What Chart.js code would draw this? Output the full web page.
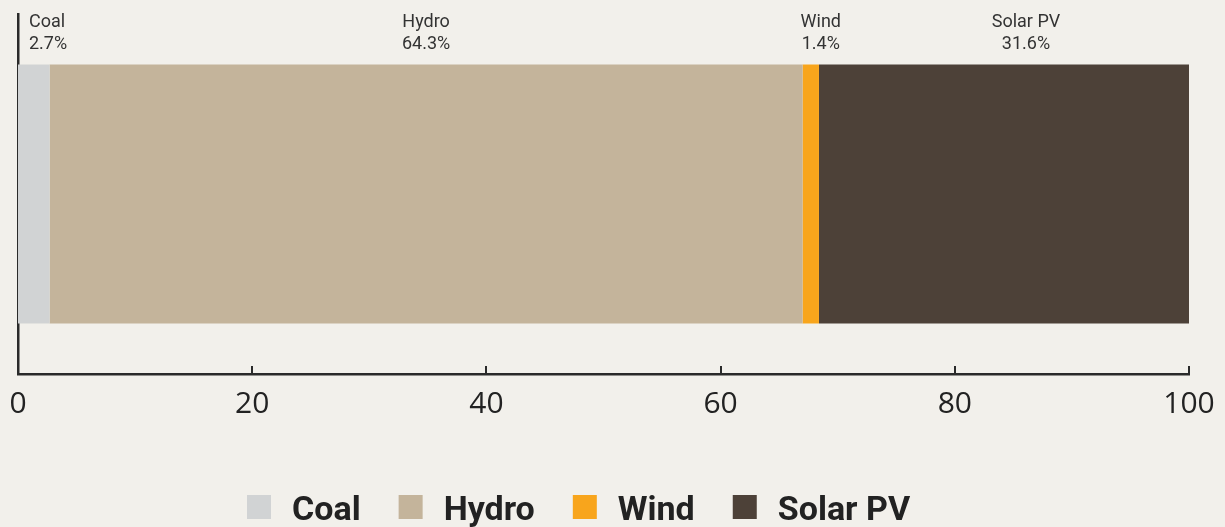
<!DOCTYPE html>
<html>
<head>
<meta charset="utf-8">
<script src="https://cdn.jsdelivr.net/npm/chart.js@4"></script>
<style>
  html, body { margin: 0; padding: 0; background: #f2f0eb; }
  #wrap { width: 1225px; height: 527px; }
</style>
</head>
<body>
<div id="wrap"><canvas id="mixChart"></canvas></div>
<script>
const sources = ["Coal", "Hydro", "Wind", "Solar PV"];
const shares = [2.7, 64.3, 1.4, 31.6];
const colors = ["#d1d3d4", "#c4b49b", "#f8a51c", "#4d4138"];
const xTicks = [0, 20, 40, 60, 80, 100];

const axisColor = "#2a2a2a";

// labels above each segment (name + share)
const segmentLabels = {
    id: "segmentLabels",
    afterDatasetsDraw(chart) {
        const ctx = chart.ctx;
        // small nudges so the labels don't crowd each other
        const shift = [0, 0, 10, 22];
        ctx.save();
        ctx.font = "18px Roboto";
        ctx.fillStyle = "#333";
        chart.data.datasets.forEach((ds, i) => {
            const bar = chart.getDatasetMeta(i).data[0];
            let x, align;
            if (i === 0) {
                x = Math.min(bar.base, bar.x) + 11;
                align = "left";
            } else {
                x = (bar.base + bar.x) / 2 + shift[i];
                align = "center";
            }
            ctx.textAlign = align;
            ctx.fillText(ds.label, x, 27);
            ctx.fillText(ds.data[0] + "%", x, 49);
        });
        ctx.restore();
    }
};

// tick marks pointing up into the plot
const tickMarks = {
    id: "tickMarks",
    afterDraw(chart) {
        const sc = chart.scales.x;
        const ctx = chart.ctx;
        const y = chart.chartArea.bottom;
        ctx.save();
        ctx.strokeStyle = axisColor;
        ctx.lineWidth = 2;
        xTicks.forEach(v => {
            const px = Math.round(sc.getPixelForValue(v));
            ctx.beginPath();
            ctx.moveTo(px, y - 8);
            ctx.lineTo(px, y);
            ctx.stroke();
        });
        ctx.restore();
    }
};

const bottomLegend = {
    id: "bottomLegend",
    afterDraw(chart) {
        const ctx = chart.ctx;
        ctx.save();
        ctx.font = "bold 34px Roboto";
        ctx.textBaseline = "alphabetic";
        ctx.textAlign = "left";
        let x = 247;
        chart.data.datasets.forEach(ds => {
            ctx.fillStyle = ds.backgroundColor;
            ctx.fillRect(x, 495, 24, 24);
            x += 24 + 21;
            ctx.fillStyle = "#222";
            ctx.fillText(ds.label, x, 520);
            x += ctx.measureText(ds.label).width + 38;
        });
        ctx.restore();
    }
};

const ctx = document.getElementById("mixChart").getContext("2d");

new Chart(ctx, {
    type: "bar",
    data: {
        labels: ["Generation"],
        datasets: sources.map((s, i) => ({
            label: s,
            data: [shares[i]],
            backgroundColor: colors[i],
            borderWidth: 0,
            barPercentage: 0.72,
            categoryPercentage: 1
        }))
    },
    options: {
        indexAxis: "y",
        responsive: true,
        maintainAspectRatio: false,
        animation: false,
        layout: { padding: { left: 10, right: 36, top: 14, bottom: 101 } },
        scales: {
            x: {
                stacked: true,
                min: 0,
                max: 100,
                afterBuildTicks: s => { s.ticks = xTicks.map(v => ({ value: v })); },
                grid: { display: false },
                border: { display: true, color: axisColor, width: 2.5 },
                ticks: {
                    color: "#222",
                    padding: 4,
                    maxRotation: 0,
                    font: { family: "'Open Sans'", size: 30 }
                }
            },
            y: {
                stacked: true,
                grid: { display: false },
                border: { display: true, color: axisColor, width: 2.5 },
                ticks: { display: false }
            }
        },
        plugins: {
            legend: { display: false },
            tooltip: { enabled: false }
        }
    },
    plugins: [segmentLabels, tickMarks, bottomLegend]
});
</script>
</body>
</html>
